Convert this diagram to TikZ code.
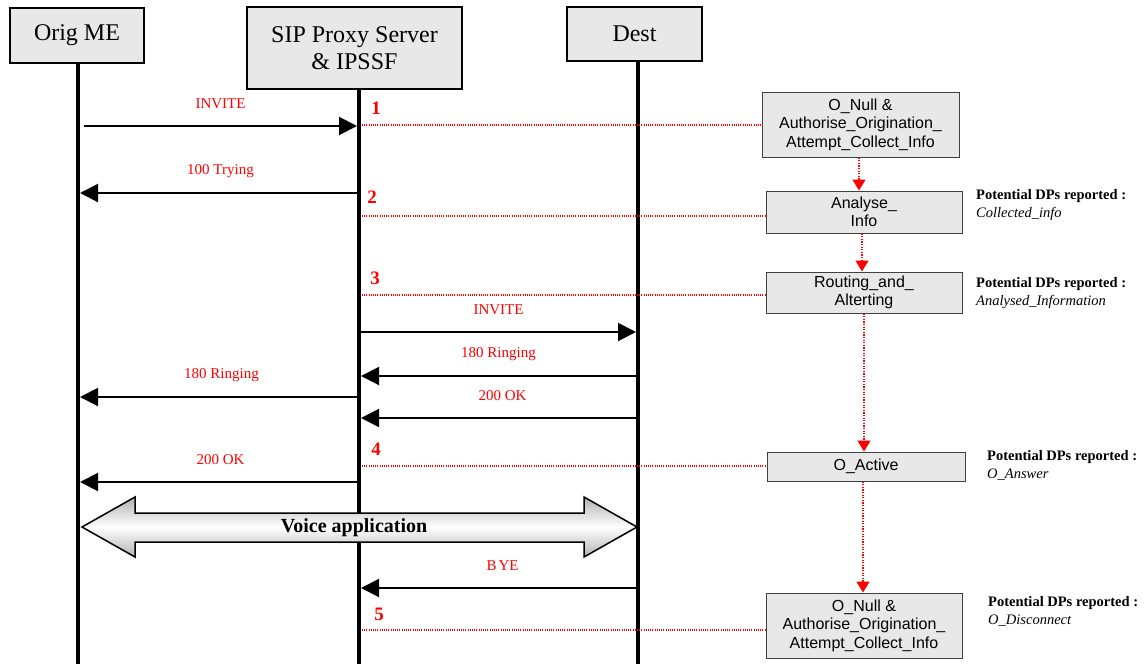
\documentclass[tikz,border=0pt]{standalone}
\usepackage{fontspec}
\setmainfont{Liberation Serif}
\newfontfamily\arialf{Liberation Sans}
\usetikzlibrary{arrows.meta}
\tikzset{
  hdr/.style={draw=black, line width=1.5pt, fill=gray!18, font=\fontsize{24}{27}\selectfont, align=center, inner sep=0pt},
  life/.style={line width=4pt},
  msg/.style={line width=2pt, -{Triangle[length=18pt,width=18pt]}},
  msglbl/.style={text=red, font=\fontsize{15}{16}\selectfont, inner sep=0pt},
  num/.style={text=red, font=\bfseries\fontsize{19}{20}\selectfont, inner sep=0pt},
  tie/.style={red, line width=1.3pt, dash pattern=on 1pt off 1.2pt},
  statebox/.style={draw=black!75, line width=1pt, fill=gray!18, font=\arialf\fontsize{16}{18.5}\selectfont, align=center, inner sep=0pt},
  flow/.style={red, line width=1.3pt, dash pattern=on 1.2pt off 1.4pt, -{Triangle[length=11pt,width=13pt]}},
  dp/.style={align=left, anchor=west, font=\fontsize{14.5}{18}\selectfont, inner sep=0pt},
}
\begin{document}
\begin{tikzpicture}[x=1pt,y=-1pt]
\useasboundingbox (0,0) rectangle (1146,664);
% headers
\node[hdr, minimum width=134pt, minimum height=55pt] (orig) at (77,35.5) {Orig ME};
\node[hdr, minimum width=215pt, minimum height=82pt] (sip) at (354.5,48) {SIP Proxy Server\\\& IPSSF};
\node[hdr, minimum width=135pt, minimum height=54pt] (dest) at (634.5,34) {Dest};
% lifelines
\coordinate (oB) at (78,664);
\coordinate (sB) at (359,664);
\coordinate (dB) at (638,664);
\draw[life] (orig.south -| oB) -- (oB);
\draw[life] (sip.south -| sB) -- (sB);
\draw[life] (dest.south -| dB) -- (dB);
% message end points
\path (84,126) coordinate (m1s) (357,126) coordinate (m1e)
      (357,193) coordinate (m2s) (80,193) coordinate (m2e)
      (361,332) coordinate (m3s) (636,332) coordinate (m3e)
      (636,376) coordinate (m4s) (361,376) coordinate (m4e)
      (357,397) coordinate (m5s) (80,397) coordinate (m5e)
      (636,418) coordinate (m6s) (361,418) coordinate (m6e)
      (357,482) coordinate (m7s) (80,482) coordinate (m7e)
      (636,588) coordinate (m8s) (361,588) coordinate (m8e);
\draw[msg] (m1s) -- node[msglbl, yshift=22pt] (l1) {INVITE} (m1e);
\draw[msg] (m2s) -- node[msglbl, yshift=22pt, xshift=2pt] (l2) {100 Trying} (m2e);
\draw[msg] (m3s) -- node[msglbl, yshift=22pt] (l3) {INVITE} (m3e);
\draw[msg] (m4s) -- node[msglbl, yshift=22pt] (l4) {180 Ringing} (m4e);
\draw[msg] (m5s) -- node[msglbl, yshift=22pt, xshift=3pt] (l5) {180 Ringing} (m5e);
\draw[msg] (m6s) -- node[msglbl, yshift=22pt, xshift=4pt] (l6) {200 OK} (m6e);
\draw[msg] (m7s) -- node[msglbl, yshift=22pt, xshift=2pt] (l7) {200 OK} (m7e);
\draw[msg] (m8s) -- node[msglbl, yshift=22pt, xshift=4pt] (l8) {B\kern2pt YE} (m8e);
% voice application
\draw[line width=1.5pt, top color=gray!60, bottom color=gray!60, middle color=white]
  (82,527) -- (135,497) -- (135,513) -- (584,513) -- (584,497) -- (637,527)
  -- (584,557) -- (584,542) -- (135,542) -- (135,557) -- cycle;
\node[font=\bfseries\fontsize{20}{22}\selectfont, inner sep=0pt] (voice) at (354,528) {Voice application};
% state boxes
\node[statebox, minimum width=197pt, minimum height=65pt] (b1) at (860.5,124.5) {O\_Null \&\\Authorise\_Origination\_\\Attempt\_Collect\_Info};
\node[statebox, minimum width=196pt, minimum height=42pt] (b2) at (864,212) {Analyse\_\\Info};
\node[statebox, minimum width=196pt, minimum height=41pt] (b3) at (864,292.5) {Routing\_and\_\\Alterting};
\node[statebox, minimum width=198pt, minimum height=29pt] (b4) at (866,466.5) {O\_Active};
\node[statebox, minimum width=196pt, minimum height=65pt] (b5) at (864,625.5) {O\_Null \&\\Authorise\_Origination\_\\Attempt\_Collect\_Info};
% ties
\path (362,125) coordinate (t1) (362,216) coordinate (t2) (362,295) coordinate (t3)
      (362,466) coordinate (t4) (362,630) coordinate (t5);
\draw[tie] (t1) -- (t1 -| b1.west);
\draw[tie] (t2) -- (t2 -| b2.west);
\draw[tie] (t3) -- (t3 -| b3.west);
\draw[tie] (t4) -- (t4 -| b4.west);
\draw[tie] (t5) -- (t5 -| b5.west);
% numbers
\node[num] (n1) at (376,108) {1};
\node[num] (n2) at (372,197) {2};
\node[num] (n3) at (375,278) {3};
\node[num] (n4) at (376,449) {4};
\node[num] (n5) at (379,614) {5};
% flow arrows
\draw[flow] ([xshift=-1.5pt]b1.south) -- ([xshift=-1.5pt]b1.south |- b2.north);
\draw[flow] ([xshift=-2pt]b2.south) -- ([xshift=-2pt]b2.south |- b3.north);
\draw[flow] (b3.south) -- (b3.south |- b4.north);
\draw[flow] ([xshift=-3pt]b4.south) -- ([xshift=-3pt]b4.south |- b5.north);
% DP labels
\node[dp] (dp1) at (976,205) {\textbf{Potential DPs reported :}\\\textit{Collected\_info}};
\node[dp] (dp2) at (976,293) {\textbf{Potential DPs reported :}\\\textit{Analysed\_Information}};
\node[dp] (dp3) at (987,465) {\textbf{Potential DPs reported :}\\\textit{O\_Answer}};
\node[dp] (dp4) at (988,611) {\textbf{Potential DPs reported :}\\\textit{O\_Disconnect}};
\end{tikzpicture}
\end{document}
